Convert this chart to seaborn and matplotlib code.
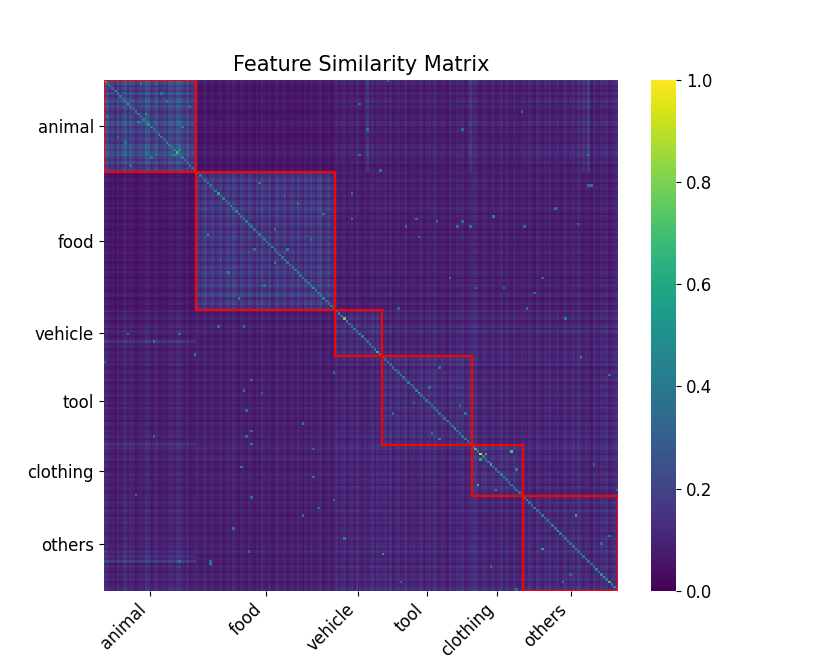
import numpy as np
import pandas as pd
import seaborn as sns
import matplotlib.pyplot as plt
from matplotlib.patches import Rectangle

# categories and how many items each one holds
categories = ['animal', 'food', 'vehicle', 'tool', 'clothing', 'others']
block_sizes = [36, 54, 18, 35, 20, 37]

# mean similarity level between two categories
block_level = [
    [0.19, 0.06, 0.08, 0.08, 0.08, 0.09],
    [0.06, 0.15, 0.08, 0.08, 0.08, 0.08],
    [0.08, 0.08, 0.12, 0.10, 0.10, 0.10],
    [0.08, 0.08, 0.10, 0.12, 0.10, 0.10],
    [0.08, 0.08, 0.10, 0.10, 0.12, 0.10],
    [0.09, 0.08, 0.10, 0.10, 0.10, 0.11],
]

# per item strength (lighter / darker rows and columns)
animal_w = [1.4, 1.2, 0.8, 1.0, 0.7, 1.2, 0.8, 1.1, 1.35, 0.8, 1.2, 1.0,
            0.7, 0.9, 1.1, 0.9, 1.45, 1.3, 0.8, 1.0, 1.3, 0.75, 0.85, 1.05,
            0.8, 1.2, 1.3, 0.95, 1.35, 1.4, 1.0, 0.8, 1.2, 0.7, 0.85, 1.0]
food_w = [1.2, 0.8, 1.0, 1.3, 0.7, 1.0, 1.25, 0.8, 1.0, 1.3, 0.75, 1.05,
          1.2, 0.8, 1.35, 1.0, 0.7, 1.2, 1.0, 0.8, 1.3, 1.0, 0.75, 1.2,
          0.85, 1.4, 1.0, 0.8, 1.2, 0.7, 1.0, 1.3, 0.8, 1.0, 1.25, 0.75,
          1.0, 1.2, 0.8, 1.3, 1.0, 0.7, 1.2, 0.85, 1.35, 1.0, 0.8, 1.2,
          1.45, 0.75, 1.0, 1.3, 0.8, 1.0]
vehicle_w = [1.3, 0.8, 1.0, 1.2, 0.7, 1.0, 1.3, 0.8, 1.4, 1.0, 0.75, 1.2,
             0.85, 1.0, 1.3, 0.8, 1.2, 1.0]
tool_w = [1.0, 1.2, 0.8, 1.3, 0.7, 1.0, 1.2, 0.8, 1.0, 1.4, 0.75, 1.0,
          1.2, 0.8, 1.0, 1.3, 0.7, 1.0, 1.2, 0.8, 1.35, 1.0, 0.8, 1.2,
          1.0, 0.7, 1.3, 1.0, 0.85, 1.2, 1.0, 1.3, 0.8, 1.0, 1.2]
clothing_w = [1.3, 1.4, 1.0, 0.8, 1.2, 1.3, 0.8, 1.0, 1.2, 0.75, 1.0, 1.3,
              0.8, 1.2, 1.0, 0.8, 1.3, 1.0, 0.8, 1.2]
others_w = [1.0, 0.8, 1.2, 1.0, 0.7, 1.3, 1.0, 0.8, 1.2, 1.0, 1.3, 0.8,
            1.0, 1.2, 0.75, 1.0, 1.3, 0.8, 1.0, 1.2, 0.8, 1.4, 1.0, 0.8,
            1.2, 1.0, 0.7, 1.3, 1.0, 0.8, 1.2, 1.0, 1.3, 0.8, 1.0, 1.2, 1.3]

# values on the diagonal
animal_d = [1.0, 0.4, 0.42, 0.35, 0.4, 0.45, 0.38, 0.42, 0.4, 0.6, 0.4, 0.35,
            0.4, 0.42, 0.35, 0.4, 0.45, 0.55, 0.4, 0.35, 0.4, 0.42, 0.38, 0.35,
            0.4, 0.45, 0.4, 0.42, 0.7, 0.4, 0.42, 0.38, 0.35, 0.4, 0.42, 0.5]
food_d = [0.45, 0.4, 0.35, 0.4, 0.42, 0.38, 0.35, 0.42, 0.6, 0.4, 0.42, 0.38,
          0.35, 0.42, 0.4, 0.45, 0.38, 0.35, 0.42, 0.4, 0.5, 0.4, 0.35, 0.42,
          0.4, 0.45, 0.38, 0.35, 0.4, 0.42, 0.38, 0.35, 0.42, 0.4, 0.5, 0.38,
          0.35, 0.42, 0.4, 0.45, 0.38, 0.35, 0.4, 0.42, 0.4, 0.5, 0.38, 0.35,
          0.42, 0.4, 0.35, 0.4, 0.42, 0.45]
vehicle_d = [0.4, 0.45, 0.4, 0.8, 0.4, 0.35, 0.42, 0.4, 0.35, 0.42, 0.4,
             0.45, 0.35, 0.4, 0.42, 0.4, 0.65, 0.4]
tool_d = [0.4, 0.35, 0.42, 0.4, 0.35, 0.42, 0.4, 0.35, 0.4, 0.42, 0.4, 0.35,
          0.4, 0.42, 0.6, 0.4, 0.35, 0.42, 0.4, 0.35, 0.42, 0.4, 0.35, 0.4,
          0.42, 0.4, 0.35, 0.4, 0.5, 0.4, 0.35, 0.42, 0.4, 0.35, 0.45]
clothing_d = [0.5, 0.7, 0.4, 0.9, 0.45, 0.4, 0.42, 0.65, 0.4, 0.42, 0.4,
              0.55, 0.42, 0.4, 0.35, 0.4, 0.42, 0.4, 0.35, 0.5]
others_d = [0.4, 0.42, 0.4, 0.35, 0.42, 0.4, 0.35, 0.42, 0.4, 0.35, 0.4,
            0.42, 0.4, 0.6, 0.4, 0.35, 0.42, 0.4, 0.35, 0.4, 0.42, 0.4, 0.35,
            0.4, 0.42, 0.4, 0.35, 0.4, 0.45, 0.4, 0.5, 0.6, 0.4, 0.7,
            0.4, 0.45, 0.4]

# single bright cells away from the diagonal (row, col, value)
hot_spots = [(145, 158, 0.7), (170, 183, 0.6), (93, 179, 0.45),
             (108, 185, 0.5), (13, 16, 0.5), (1, 14, 0.4), (0, 26, 0.4),
             (48, 75, 0.45), (66, 71, 0.4), (120, 126, 0.4), (130, 140, 0.4),
             (146, 148, 0.6), (55, 129, 0.35), (77, 170, 0.35),
             (19, 102, 0.4), (40, 60, 0.4), (152, 160, 0.45),
             (99, 9, 0.35), (99, 29, 0.35), (107, 35, 0.4), (96, 44, 0.35),
             (96, 54, 0.4), (117, 57, 0.4), (121, 54, 0.4), (134, 77, 0.4),
             (139, 19, 0.35), (139, 55, 0.35), (163, 57, 0.35),
             (175, 50, 0.4), (188, 41, 0.35), (167, 83, 0.35),
             (164, 89, 0.35), (110, 0, 0.35), (144, 81, 0.3),
             (29, 188, 0.4), (53, 151, 0.45), (57, 142, 0.4),
             (57, 137, 0.35), (41, 189, 0.4), (61, 122, 0.35),
             (81, 155, 0.35), (12, 162, 0.35), (56, 184, 0.35),
             (89, 114, 0.35), (5, 22, 0.4), (24, 8, 0.38), (30, 18, 0.4),
             (10, 33, 0.35), (27, 29, 0.5), (62, 80, 0.38), (70, 45, 0.35),
             (85, 52, 0.4), (58, 66, 0.35), (112, 130, 0.35),
             (127, 138, 0.35), (150, 190, 0.35), (178, 196, 0.4),
             (193, 181, 0.35), (160, 199, 0.35), (115, 196, 0.35)]

# items whose row/column is lighter against a whole category (factor)
cross_items = [(102, 0, 2.2), (188, 0, 2.0), (186, 0, 1.8), (142, 0, 1.6)]

weights = animal_w + food_w + vehicle_w + tool_w + clothing_w + others_w
diag = animal_d + food_d + vehicle_d + tool_d + clothing_d + others_d
labels = np.repeat(np.arange(len(categories)), block_sizes)

w = np.array(weights)
sim = np.array(block_level)[labels][:, labels] * np.outer(w, w)
for item, blk, f in cross_items:
    sim[item, labels == blk] *= f
    sim[labels == blk, item] *= f
for r, c, val in hot_spots:
    sim[r, c] = val
    sim[c, r] = val
np.fill_diagonal(sim, diag)

df = pd.DataFrame(sim)

fig, ax = plt.subplots(figsize=(8.3, 6.64), dpi=100)
sns.heatmap(df, cmap='viridis', vmin=0, vmax=1, ax=ax,
            xticklabels=False, yticklabels=False)

starts = np.concatenate([[0], np.cumsum(block_sizes)[:-1]])
centers = starts + np.array(block_sizes) / 2
for s, n in zip(starts, block_sizes):
    ax.add_patch(Rectangle((s, s), n, n, fill=False, edgecolor='red', lw=1.5))

ax.set_xticks(centers)
ax.set_xticklabels(categories, rotation=45, ha='right', fontsize=12)
ax.set_yticks(centers)
ax.set_yticklabels(categories, rotation=0, fontsize=12)
ax.set_title('Feature Similarity Matrix', fontsize=15)
ax.collections[0].colorbar.ax.tick_params(labelsize=12)

plt.savefig('out.png', dpi=100)
